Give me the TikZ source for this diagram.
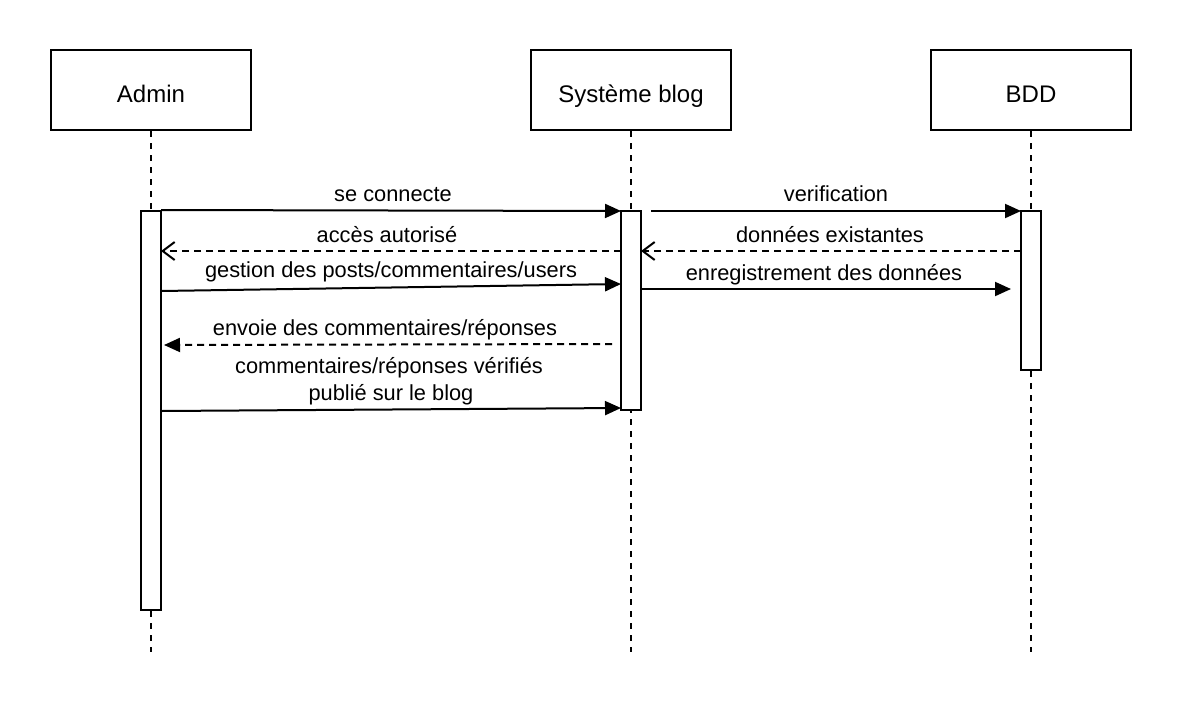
\documentclass[tikz,border=0pt]{standalone}
\usepackage{fontspec}
\setmainfont{Liberation Sans}
\usetikzlibrary{arrows.meta}
\newcommand{\hdtext}[1]{\raisebox{-12pt}[0pt][0pt]{#1}}
\begin{document}
\begin{tikzpicture}[x=1pt,y=-1pt,
  line width=2pt,
  header/.style={draw,rectangle,minimum width=200pt,minimum height=80pt,inner sep=0pt,font=\fontsize{24}{28}\selectfont},
  lifeline/.style={dash pattern=on 6pt off 6pt},
  actbox/.style={draw,fill=white,rectangle,minimum width=20pt,inner sep=0pt},
  msg/.style={-{Triangle[length=16pt,width=14pt]}},
  reply/.style={dash pattern=on 7pt off 5pt,-{Straight Barb[length=12pt,width=18pt]}},
  dreply/.style={dash pattern=on 7pt off 5pt,-{Triangle[length=16pt,width=14pt]}},
  lbl/.style={anchor=base,inner sep=0pt,font=\fontsize{21.8}{26}\selectfont}]
\useasboundingbox (0,0) rectangle (1182,702);
% headers
\node[header] (admin) at (151,90) {\hdtext{Admin}};
\node[header] (sys) at (631,90) {\hdtext{Système blog}};
\node[header] (bdd) at (1031,90) {\hdtext{BDD}};
% lifeline ends
\coordinate (adminEnd) at (151,652);
\coordinate (sysEnd) at (631,652);
\coordinate (bddEnd) at (1031,652);
\draw[lifeline] (admin.south) -- (adminEnd);
\draw[lifeline] (sys.south) -- (sysEnd);
\draw[lifeline] (bdd.south) -- (bddEnd);
% activation boxes
\node[actbox,minimum height=399pt] (aAdmin) at (151,410.5) {};
\node[actbox,minimum height=199pt] (aSys) at (631,310.5) {};
\node[actbox,minimum height=159pt] (aBdd) at (1031,290.5) {};
% message end points
\coordinate (m1s) at (161,210);
\coordinate (m1e) at (621,211);
\coordinate (m2s) at (621,251);
\coordinate (m2e) at (161,251);
\coordinate (m3s) at (161,291);
\coordinate (m3e) at (621,284);
\coordinate (m4s) at (612,344);
\coordinate (m4e) at (164,345);
\coordinate (m5s) at (161,411);
\coordinate (m5e) at (621,408);
\coordinate (m6s) at (651,211);
\coordinate (m6e) at (1021,211);
\coordinate (m7s) at (1021,251);
\coordinate (m7e) at (641,251);
\coordinate (m8s) at (641,289);
\coordinate (m8e) at (1011,289);
% messages
\draw[msg] (m1s) -- (m1e);
\draw[reply] (m2s) -- (m2e);
\draw[msg] (m3s) -- (m3e);
\draw[dreply] (m4s) -- (m4e);
\draw[msg] (m5s) -- (m5e);
\draw[msg] (m6s) -- (m6e);
\draw[reply] (m7s) -- (m7e);
\draw[msg] (m8s) -- (m8e);
% labels
\node[lbl] (l1) at (393,201) {se connecte};
\node[lbl] (l2) at (387,242) {accès autorisé};
\node[lbl] (l3) at (391,277) {gestion des posts/commentaires/users};
\node[lbl] (l4) at (385,335) {envoie des commentaires/réponses};
\node[lbl] (l5a) at (389,373) {commentaires/réponses vérifiés};
\node[lbl] (l5b) at (391,400) {publié sur le blog};
\node[lbl] (l6) at (836,201) {verification};
\node[lbl] (l7) at (830,242) {données existantes};
\node[lbl] (l8) at (824,280) {enregistrement des données};
\end{tikzpicture}
\end{document}
